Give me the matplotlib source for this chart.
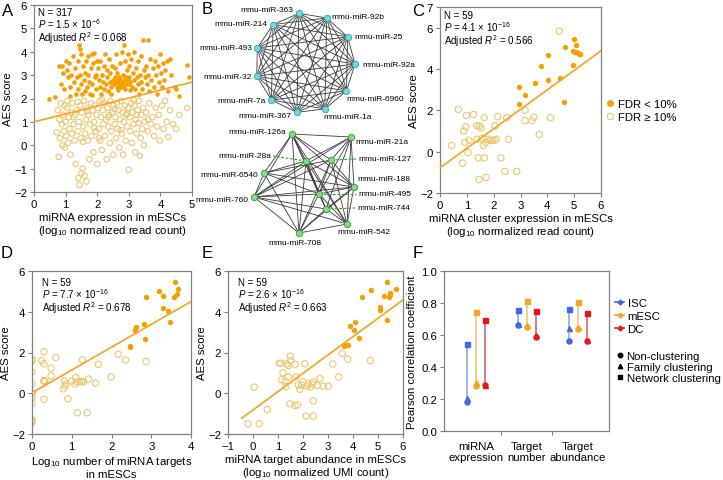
import matplotlib.pyplot as plt
import numpy as np
from matplotlib.lines import Line2D

plt.rcParams['font.family'] = ['Liberation Sans', 'DejaVu Sans']
plt.rcParams['mathtext.fontset'] = 'custom'
plt.rcParams['mathtext.rm'] = 'Liberation Sans'
plt.rcParams['mathtext.it'] = 'Liberation Sans:italic'

# ---------------- data ----------------
# A: miRNA expression vs AES score (FDR < 10% filled, >= 10% hollow)
a_sig = [(0.48, 2.0), (0.65, 2.05), (0.78, 3.4), (0.88, 3.4), (0.85, 2.6), (0.92, 3.1), (0.95, 2.4),
         (1.02, 3.6), (1.05, 3.2), (1.08, 2.9), (1.12, 3.5), (1.15, 2.5), (1.18, 3.0), (1.22, 3.8),
         (1.25, 2.7), (1.3, 3.3), (1.32, 2.2), (1.35, 2.9), (1.38, 3.6), (1.4, 2.4), (1.42, 4.3),
         (1.45, 4.1), (1.45, 3.0), (1.48, 2.6), (1.5, 3.9), (1.52, 2.2), (1.55, 3.4), (1.58, 2.8),
         (1.6, 3.1), (1.62, 2.3), (1.65, 3.6), (1.68, 2.5), (1.7, 3.0), (1.72, 3.8), (1.75, 2.7),
         (1.78, 2.2), (1.8, 3.3), (1.82, 3.9), (1.85, 2.6), (1.88, 3.5), (1.9, 3.95), (1.92, 2.9),
         (1.95, 3.0), (1.97, 2.4), (1.98, 3.6), (2.02, 3.3), (2.05, 2.8), (2.08, 2.5), (2.1, 3.6),
         (2.12, 2.2), (2.15, 3.0), (2.18, 2.7), (2.2, 3.4), (2.22, 2.4), (2.25, 3.9), (2.28, 2.6),
         (2.3, 3.2), (2.32, 2.9), (2.35, 2.3), (2.38, 3.7), (2.4, 2.7), (2.42, 3.1), (2.45, 2.5),
         (2.48, 3.4), (2.5, 2.8), (2.52, 2.6), (2.55, 3.3), (2.57, 2.9), (2.6, 2.7), (2.6, 3.9),
         (2.62, 2.5), (2.64, 3.1), (2.66, 2.8), (2.68, 2.6), (2.7, 2.9), (2.72, 3.5), (2.73, 2.7),
         (2.75, 2.5), (2.76, 2.8), (2.78, 4.0), (2.8, 2.7), (2.8, 2.6), (2.82, 3.0), (2.84, 2.8),
         (2.85, 4.3), (2.86, 2.5), (2.88, 3.6), (2.9, 2.7), (2.92, 2.9), (2.93, 2.6), (2.95, 3.2),
         (2.96, 2.8), (2.98, 3.9), (3.0, 2.6), (3.0, 3.4), (3.02, 2.9), (3.05, 2.7), (3.08, 3.7),
         (3.1, 2.5), (3.12, 3.1), (3.15, 2.8), (3.18, 4.0), (3.2, 2.4), (3.22, 3.3), (3.25, 2.9),
         (3.28, 2.6), (3.3, 3.6), (3.32, 2.2), (3.35, 3.0), (3.38, 2.7), (3.4, 3.8), (3.42, 2.4),
         (3.45, 4.5), (3.48, 3.2), (3.5, 2.9), (3.55, 3.4), (3.58, 2.6), (3.6, 4.5), (3.62, 3.0),
         (3.65, 2.3), (3.68, 3.7), (3.7, 2.8), (3.75, 3.3), (3.8, 2.5), (3.82, 3.6), (3.85, 3.0),
         (3.9, 2.2), (3.92, 3.4), (3.95, 2.7), (3.98, 3.9), (4.02, 3.1), (4.05, 2.5), (4.08, 3.5),
         (4.12, 2.8), (4.15, 3.2), (4.2, 3.6), (4.25, 2.3), (4.3, 3.7), (4.35, 3.0), (4.45, 2.5),
         (4.5, 2.4), (4.6, 2.1), (4.85, 3.45), (4.9, 2.9), (2.65, 2.35), (2.87, 2.4), (3.05, 2.35),
         (2.45, 2.2), (1.15, 2.1), (1.85, 2.15)]
a_ns = [(0.72, 0.55), (0.75, 1.5), (0.78, -0.5), (0.8, 1.1), (0.82, 0.3), (0.85, 1.8), (0.88, 0.9),
        (0.9, 0.0), (0.92, 1.3), (0.95, 0.6), (0.97, 1.7), (0.98, -0.1), (1.0, 1.0), (1.02, 0.4),
        (1.05, 1.6), (1.08, 0.1), (1.1, 1.2), (1.12, 0.7), (1.15, -0.4), (1.18, 1.4), (1.2, 0.5),
        (1.22, 1.8), (1.25, 0.9), (1.28, 0.2), (1.3, 1.3), (1.32, -0.8), (1.35, 1.5), (1.38, 0.6),
        (1.4, -1.4), (1.42, 1.0), (1.44, -1.7), (1.46, 1.7), (1.48, 0.3), (1.5, -1.2), (1.52, 1.4),
        (1.54, -1.0), (1.56, 0.8), (1.58, 1.9), (1.6, -1.3), (1.62, 0.5), (1.64, 1.1), (1.66, -1.55),
        (1.68, 1.6), (1.7, 0.2), (1.72, 1.3), (1.75, -0.6), (1.78, 0.9), (1.8, 1.8), (1.82, 0.4),
        (1.85, 1.5), (1.88, -0.3), (1.9, 1.0), (1.92, 1.7), (1.95, 0.6), (1.98, 1.3), (2.0, -0.8),
        (2.02, 1.6), (2.05, 0.7), (2.08, 1.9), (2.1, 0.2), (2.12, 1.2), (2.15, -0.2), (2.18, 1.5),
        (2.2, 0.9), (2.22, 1.8), (2.25, 0.4), (2.28, 1.1), (2.3, -0.6), (2.32, 1.6), (2.35, 0.8),
        (2.38, 1.3), (2.4, 0.1), (2.42, 1.9), (2.45, 0.6), (2.48, 1.4), (2.5, -0.4), (2.52, 1.7),
        (2.55, 0.9), (2.58, 1.2), (2.6, 0.3), (2.62, 1.8), (2.65, 0.7), (2.68, 1.5), (2.7, -0.1),
        (2.72, 1.1), (2.75, 1.9), (2.78, 0.5), (2.8, 1.4), (2.82, -0.4), (2.85, 1.0), (2.88, 1.7),
        (2.9, 0.2), (2.92, 1.3), (2.95, 0.8), (2.98, 1.6), (3.0, -1.05), (3.02, 1.2), (3.05, 0.6),
        (3.08, 1.8), (3.1, 0.1), (3.12, 1.4), (3.15, 0.9), (3.18, 1.7), (3.2, -0.3), (3.22, 1.1),
        (3.25, 0.5), (3.28, 1.5), (3.3, 0.95), (3.32, 1.9), (3.35, -0.45), (3.38, 0.3), (3.4, 1.3),
        (3.42, 0.7), (3.45, 1.6), (3.48, 0.0), (3.5, 1.0), (3.55, 1.4), (3.6, 0.6), (3.65, 1.8),
        (3.7, 0.9), (3.75, 1.2), (3.8, 0.4), (3.85, 1.6), (3.9, 0.8), (3.95, 1.3), (3.98, 0.2),
        (4.05, 1.7), (4.1, 0.7), (4.15, 1.9), (4.2, 1.0), (4.25, 0.35), (4.3, 1.5), (4.4, 0.9),
        (4.5, 0.7), (4.6, 1.3), (4.85, 1.6), (1.05, 1.9), (1.38, 1.85), (2.15, 1.95), (2.55, 1.55),
        (3.15, 1.95), (1.7, 1.45), (2.35, 1.2), (2.95, 1.35), (1.25, 1.2), (2.05, 0.3), (1.55, 0.15),
        (3.6, 1.1), (2.75, 0.65), (3.25, 1.3), (1.9, 0.75)]
a_fit = (1.0, 0.34)          # intercept, slope
a_stats = ["N = 317", "$P$ = 1.5 × 10$^{-6}$", "Adjusted $R^2$ = 0.068"]

# C: miRNA cluster expression vs AES score
c_sig = [(2.96, 3.13), (3.15, 2.72), (2.96, 2.32), (3.54, 3.32), (3.75, 4.13), (4.02, 4.70),
         (4.02, 3.45), (4.48, 3.56), (4.61, 2.38), (4.67, 5.07), (5.0, 5.47), (5.06, 5.18),
         (4.95, 4.87), (5.02, 4.82), (5.1, 4.8), (5.18, 4.75), (5.22, 4.72), (4.97, 4.21)]
c_ns = [(0.43, 0.3), (0.68, 2.05), (0.84, -0.55), (0.88, 1.0), (0.99, 1.75), (0.96, 1.2),
        (0.93, 0.45), (1.08, 0.55), (1.05, -0.05), (1.25, 1.8), (1.37, 1.25), (1.46, 1.25),
        (1.37, 0.6), (1.43, -0.3), (1.46, -1.35), (1.53, 1.15), (1.65, 1.65), (1.58, 0.65),
        (1.65, -0.3), (1.7, 0.45), (1.8, 0.6), (1.86, 0.55), (1.95, 0.55), (2.02, 0.55),
        (2.1, 0.6), (2.05, 1.25), (2.15, 1.7), (2.27, -0.3), (2.42, -0.95), (2.55, 0.6),
        (2.86, -0.95), (1.72, -1.25), (2.49, 1.64), (3.17, 2.0), (3.17, 1.5), (3.43, 1.5),
        (3.5, 1.67), (4.12, 1.64), (3.7, 0.83), (4.45, 5.83), (1.62, 0.3)]
c_fit = (-0.78, 0.943)
c_stats = ["N = 59", "$P$ = 4.1 × 10$^{-16}$", "Adjusted $R^2$ = 0.566"]

# D: number of miRNA targets vs AES score
d_sig = [(3.61, 5.44), (3.68, 5.12), (3.2, 5.04), (3.3, 4.75), (3.65, 4.87), (3.57, 4.7),
         (2.87, 4.7), (3.29, 4.17), (3.42, 4.05), (3.48, 3.52), (2.83, 3.4), (2.61, 3.25),
         (2.58, 3.08), (2.85, 2.68), (2.47, 2.33), (2.47, 2.27)]
d_ns = [(2.87, 1.56), (2.35, 1.63), (2.17, 1.92), (1.99, 0.8), (1.67, 1.42), (1.6, 0.5),
        (1.42, 0.7), (1.27, 1.64), (1.3, 0.56), (1.2, 0.56), (1.13, 0.56), (1.08, 0.45),
        (1.0, 0.6), (1.1, 0.77), (0.9, -0.27), (0.83, 0.35), (0.79, 0.22), (1.14, -0.96),
        (1.39, -0.96), (0.6, 1.76), (0.48, 1.24), (0.48, 0.85), (0.3, 2.03), (0.3, 1.45),
        (0.24, 1.6), (0.3, 0.6), (0.32, 0.58), (0.3, -0.3), (0.0, 1.65), (0.0, 1.04),
        (0.0, 0.45), (0.0, -0.5), (0.0, -1.3), (0.0, -1.42), (0.0, -0.2), (0.0, 0.0),
        (0.85, 0.45), (0.0, 1.6), (0.0, -1.38), (1.25, 0.57), (0.3, 0.62), (0.82, 0.6), (0.0, 0.02)]
d_fit = (0.02, 1.12)
d_stats = ["N = 59", "$P$ = 7.7 × 10$^{-16}$", "Adjusted $R^2$ = 0.678"]

# E: miRNA target abundance vs AES score
e_sig = [(5.36, 5.44), (4.72, 5.06), (5.71, 5.14), (5.25, 4.75), (5.48, 4.9), (5.47, 4.8),
         (5.45, 4.7), (4.35, 4.7), (5.07, 4.22), (5.07, 4.1), (5.37, 3.6), (3.87, 3.3),
         (4.07, 3.49), (4.03, 3.11), (4.25, 2.72), (3.63, 2.31), (3.71, 2.35), (3.8, 2.38)]
e_ns = [(3.57, 1.96), (3.79, 1.67), (4.69, 1.6), (3.19, 1.44), (3.43, 0.8), (3.01, 0.35),
        (2.81, 0.35), (2.57, 0.38), (2.68, 0.72), (2.41, 0.56), (2.37, 0.45), (2.21, 0.47),
        (2.15, 0.35), (2.0, 0.56), (1.95, 0.4), (1.81, 0.4), (1.87, 0.2), (2.08, 1.45),
        (1.72, 0.8), (1.49, 1.82), (1.51, 1.6), (1.68, 1.42), (1.35, 1.44), (1.41, 1.36),
        (1.04, 1.47), (1.11, 1.47), (1.41, 0.8), (1.15, 0.67), (1.28, 0.59), (1.31, 0.32),
        (2.41, -0.37), (1.48, -0.52), (1.68, -0.6), (1.79, -0.57), (2.12, -1.12), (2.41, -1.12),
        (0.57, -0.8), (0.25, -1.5), (0.05, 0.3), (-0.2, -1.5), (1.2, 1.0), (2.3, 0.3)]
e_fit = (-0.82, 0.9)
e_stats = ["N = 59", "$P$ = 2.6 × 10$^{-16}$", "Adjusted $R^2$ = 0.663"]

# F: Pearson correlation by cell type and clustering
f_categories = ["miRNA\nexpression", "Target\nnumber", "Target\nabundance"]
f_cells = ["ISC", "mESC", "DC"]
f_non = {"ISC": [0.18, 0.66, 0.565], "mESC": [0.28, 0.65, 0.64], "DC": [0.29, 0.59, 0.565]}
f_fam = {"ISC": [0.205, 0.67, 0.645], "mESC": [0.305, 0.66, 0.65], "DC": [0.29, 0.60, 0.57]}
f_net = {"ISC": [0.545, 0.755, 0.76], "mESC": [0.745, 0.81, 0.805], "DC": [0.695, 0.75, 0.735]}

# B: miRNA networks
net1_nodes = ["mmu-miR-363", "mmu-miR-92b", "mmu-miR-25", "mmu-miR-92a", "mmu-miR-6960",
              "mmu-miR-1a", "mmu-miR-367", "mmu-miR-7a", "mmu-miR-32", "mmu-miR-493", "mmu-miR-214"]
net2_nodes = ["mmu-miR-126a", "mmu-miR-21a", "mmu-miR-28a", "mmu-miR-127", "mmu-miR-6540",
              "mmu-miR-188", "mmu-miR-495", "mmu-miR-760", "mmu-miR-744", "mmu-miR-542", "mmu-miR-708"]
net2_edges = [(0, 1), (0, 2), (0, 4), (0, 7), (0, 6), (0, 8), (0, 9), (0, 10), (0, 5), (0, 3),
              (1, 5), (1, 9), (1, 2), (1, 7), (1, 6), (1, 3), (1, 8),
              (2, 4), (2, 7), (2, 6), (2, 8), (2, 9), (2, 10), (2, 5),
              (3, 6), (3, 9), (3, 5), (3, 10), (3, 7),
              (4, 7), (4, 10), (4, 6), (4, 5), (4, 3),
              (5, 7), (5, 9), (5, 8), (5, 6), (5, 10),
              (6, 7), (6, 9), (6, 10), (6, 8),
              (7, 10), (7, 9), (7, 8), (8, 9), (8, 10), (9, 10)]

# ---------------- layout / style ----------------
W, H = 723, 481
FS = 8.2
ORANGE = "#F5A000"
PALE = "#EDC670"
LINE = "#F5A623"
SPINE = "#808080"
cell_marker_col = {"ISC": "#4169E1", "mESC": "#F5A623", "DC": "#E8161B"}
cell_line_col = {"ISC": "#8AA2E6", "mESC": "#F0C46A", "DC": "#D45A5A"}
cell_offset = {"ISC": -0.17, "mESC": 0.0, "DC": 0.17}

# pixel layout of network B (figure pixels)
net1_center, net1_radius, net1_start = (305, 64), 50, -7
net1_label = [("right", -6, -4), ("left", 5, -1), ("left", 7, 0), ("left", 7, 0), ("left", 0, 8),
              ("left", -1, 8), ("right", -6, 3), ("right", -6, 0), ("right", -5, 0), ("right", -5, 0),
              ("right", -6, -1)]
net2_pos = [(292, 135), (351, 138), (306, 162), (331, 161), (264, 174), (354, 188),
            (319, 195), (254, 198), (326, 210), (347, 225), (299, 234)]
# (ha, text x, text y, leader?)
net2_label = [("right", 286, 133, False), ("left", 355, 143, False), ("right", 271, 157, True),
              ("left", 358, 160, True), ("right", 258, 176, False), ("left", 357, 180, False),
              ("left", 358, 195, True), ("right", 248, 201, False), ("left", 357, 209, True),
              ("left", 337, 233, False), ("center", 295, 244, False)]


def fig_rect(x0, y0, x1, y1):
    return [x0 / W, 1 - y1 / H, (x1 - x0) / W, (y1 - y0) / H]


def style_axes(ax):
    for s in ax.spines.values():
        s.set_color(SPINE)
        s.set_linewidth(0.9)
    ax.tick_params(axis="both", which="both", direction="out", length=3, width=0.8,
                   color=SPINE, labelsize=FS, pad=2)


def scatter_panel(ax, sig, ns, fit, xr, stats, size, top_px, left_px):
    sig = np.array(sig)
    ns = np.array(ns)
    ax.scatter(ns[:, 0], ns[:, 1], s=size * 1.4, facecolors="none", edgecolors=PALE,
               linewidths=0.8, clip_on=True, zorder=2)
    ax.scatter(sig[:, 0], sig[:, 1], s=size, color=ORANGE, linewidths=0, zorder=3)
    xs = np.array(xr)
    ax.plot(xs, fit[0] + fit[1] * xs, color=LINE, lw=1.25, zorder=4)
    ax.annotate("\n".join(stats), xy=(0, 1), xycoords="axes fraction",
                xytext=(left_px * 0.72, -top_px * 0.72), textcoords="offset points",
                va="top", ha="left", fontsize=7, linespacing=0.95)
    ax.set_ylabel("AES score", fontsize=FS, labelpad=1)
    style_axes(ax)


fig = plt.figure(figsize=(W / 100, H / 100), dpi=100)

# Panel A
ax_a = fig.add_axes(fig_rect(34, 6, 192, 193))
scatter_panel(ax_a, a_sig, a_ns, a_fit, [0, 5], a_stats, 11, 2, 4)
ax_a.set_xlim(0, 5)
ax_a.set_ylim(-2, 6)
ax_a.set_xticks(range(0, 6))
ax_a.set_yticks(range(-2, 7))
ax_a.set_xlabel("miRNA expression in mESCs\n(log$_{10}$ normalized read count)", fontsize=FS,
                labelpad=2, linespacing=1.15)

# Panel C
ax_c = fig.add_axes(fig_rect(440, 8, 601, 194))
scatter_panel(ax_c, c_sig, c_ns, c_fit, [0, 6], c_stats, 15, 3, 4)
ax_c.set_xlim(0, 6)
ax_c.set_ylim(-2, 7)
ax_c.set_xticks(range(0, 7))
ax_c.set_yticks([-2, 0, 2, 4, 6, 7])
ax_c.set_xlabel("miRNA cluster expression in mESCs\n(log$_{10}$ normalized read count)", fontsize=FS,
                labelpad=2, linespacing=1.15)
leg_handles = [Line2D([], [], ls="none", marker="o", ms=4, color=ORANGE, mec=ORANGE),
               Line2D([], [], ls="none", marker="o", ms=4.5, mfc="none", mec=PALE, mew=0.8)]
fig.legend(leg_handles, ["FDR < 10%", "FDR ≥ 10%"], loc="upper left",
           bbox_to_anchor=(607 / W, 1 - 100 / H), frameon=False, fontsize=FS,
           handlelength=0.6, handletextpad=0.4, labelspacing=0.3, borderpad=0, borderaxespad=0)

# Panel D
ax_d = fig.add_axes(fig_rect(32, 272, 191, 435))
scatter_panel(ax_d, d_sig, d_ns, d_fit, [0, 4], d_stats, 15, 6, 10)
ax_d.set_xlim(0, 4)
ax_d.set_ylim(-2, 6)
ax_d.set_xticks(range(0, 5))
ax_d.set_yticks(range(-2, 7, 2))
ax_d.set_xlabel("Log$_{10}$ number of miRNA targets\nin mESCs", fontsize=FS, labelpad=2,
                linespacing=1.15)

# Panel E
ax_e = fig.add_axes(fig_rect(228, 272, 403, 435))
scatter_panel(ax_e, e_sig, e_ns, e_fit, [-0.45, 6], e_stats, 15, 6, 10)
ax_e.set_xlim(-1, 6)
ax_e.set_ylim(-2, 6)
ax_e.set_xticks(range(-1, 7))
ax_e.set_yticks(range(-2, 7, 2))
ax_e.set_xlabel("miRNA target abundance in mESCs\n(log$_{10}$ normalized UMI count)", fontsize=FS,
                labelpad=2, linespacing=1.15)

# Panel F
ax_f = fig.add_axes(fig_rect(444, 272, 609, 432))
xpos = np.arange(1, len(f_categories) + 1)
for cell in f_cells:
    x = xpos + cell_offset[cell]
    vals = np.array([f_non[cell], f_fam[cell], f_net[cell]])
    ax_f.vlines(x, vals.min(axis=0), vals.max(axis=0), color=cell_line_col[cell], lw=1.1, zorder=2)
    for row, mk in zip(vals, ["o", "^", "s"]):
        ax_f.plot(x, row, ls="none", marker=mk, ms=3.6, color=cell_marker_col[cell],
                  mec=cell_marker_col[cell], zorder=3)
ax_f.set_xlim(0.373, 3.608)
ax_f.set_ylim(0, 1.0)
ax_f.set_yticks(np.arange(0, 1.01, 0.2))
ax_f.set_yticklabels([f"{v:.1f}" for v in np.arange(0, 1.01, 0.2)])
ax_f.set_xticks([1.5, 2.5])
ax_f.set_xticklabels([])
ax_f.set_xticks(xpos, minor=True)
ax_f.set_xticklabels(f_categories, minor=True)
style_axes(ax_f)
ax_f.tick_params(axis="x", which="minor", length=0, pad=7)
ax_f.set_ylabel("Pearson correlation coefficient", fontsize=FS, labelpad=3)
for lab in ax_f.get_xticklabels(minor=True):
    lab.set_linespacing(1.15)

cell_handles = [Line2D([], [], color=cell_marker_col[c], lw=1.2, marker="D", ms=2.5) for c in f_cells]
fig.legend(cell_handles, f_cells, loc="upper left", bbox_to_anchor=(615 / W, 1 - 299 / H),
           frameon=False, fontsize=FS, handlelength=0.8, handletextpad=0.3,
           labelspacing=0.25, borderpad=0, borderaxespad=0)
shape_handles = [Line2D([], [], ls="none", marker=m, ms=3.2, color="black") for m in ["o", "^", "s"]]
fig.legend(shape_handles, ["Non-clustering", "Family clustering", "Network clustering"],
           loc="upper left", bbox_to_anchor=(618 / W, 1 - 352 / H), frameon=False, fontsize=FS,
           handlelength=0.4, handletextpad=0.35, labelspacing=0.1, borderpad=0, borderaxespad=0)

# Panel B (networks, drawn in figure-pixel coordinates)
ax_b = fig.add_axes(fig_rect(195, 0, 430, 250))
ax_b.set_xlim(195, 430)
ax_b.set_ylim(250, 0)
ax_b.axis("off")
ang = np.deg2rad(net1_start + np.arange(len(net1_nodes)) * 360 / len(net1_nodes))
n1x = net1_center[0] + net1_radius * np.sin(ang)
n1y = net1_center[1] - net1_radius * np.cos(ang)
for i in range(len(net1_nodes)):
    for j in range(i + 1, len(net1_nodes)):
        ax_b.plot([n1x[i], n1x[j]], [n1y[i], n1y[j]], color="#3a3a3a", lw=0.6, zorder=1)
ax_b.plot(n1x, n1y, ls="none", marker="o", ms=4.6, mfc="#5EE0E8", mec="#4a9a9a", mew=0.6, zorder=3)
for name, x, y, (ha, dx, dy) in zip(net1_nodes, n1x, n1y, net1_label):
    ax_b.text(x + dx, y + dy, name, ha=ha, va="center", fontsize=6)

n2 = np.array(net2_pos, dtype=float)
for i, j in net2_edges:
    ax_b.plot(n2[[i, j], 0], n2[[i, j], 1], color="#3a3a3a", lw=0.6, zorder=1)
ax_b.plot(n2[:, 0], n2[:, 1], ls="none", marker="o", ms=4.6, mfc="#78E27E", mec="#3f8f45", mew=0.6,
          zorder=3)
for name, (x, y), (ha, tx, ty, lead) in zip(net2_nodes, n2, net2_label):
    ax_b.text(tx, ty, name, ha=ha, va="center", fontsize=6)
    if lead:
        ax_b.plot([x, tx - 2 if ha == "left" else tx + 2], [y, ty], color="#2ea02e", lw=0.8,
                  ls=(0, (2.5, 1.5)), zorder=2)

# panel letters
for letter, (px, py) in zip("ABCDEF", [(8, 12), (207, 10), (418, 12), (7, 254), (207, 254), (418, 254)]):
    fig.text(px / W, 1 - py / H, letter, fontsize=12, ha="center", va="center")

fig.savefig("out.png", dpi=100)
